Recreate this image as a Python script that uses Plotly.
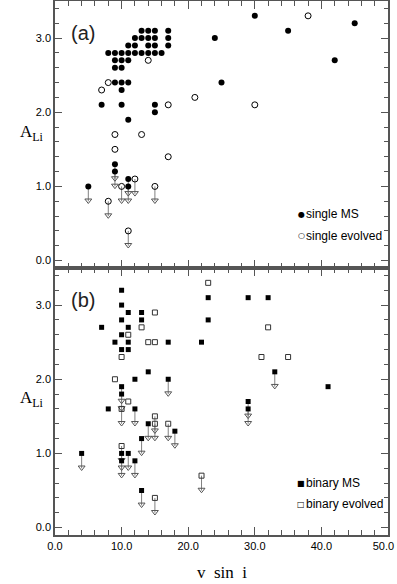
import plotly.graph_objs as go
from plotly.subplots import make_subplots

# panel (a): single stars
sms_x = [13, 14, 15, 17, 12, 13, 14, 15, 17, 11, 12, 14, 15, 17,
         8, 9, 10, 11, 12, 13, 14, 15, 16, 9, 10, 11, 9, 10, 9, 10, 11,
         10, 7, 10, 15, 15, 11, 24, 30, 35, 45, 42, 25]
sms_y = [3.1, 3.1, 3.1, 3.1, 3.0, 3.0, 3.0, 3.0, 3.0, 2.9, 2.9, 2.9, 2.9, 2.9,
         2.8, 2.8, 2.8, 2.8, 2.8, 2.8, 2.8, 2.8, 2.8, 2.7, 2.7, 2.7, 2.6, 2.6, 2.4, 2.4, 2.4,
         2.3, 2.1, 2.1, 2.1, 2.0, 1.9, 3.0, 3.3, 3.1, 3.2, 2.7, 2.4]
sms_lim_x = [9, 9, 5, 11, 11]
sms_lim_y = [1.3, 1.2, 1.0, 1.1, 1.0]

sev_x = [14, 8, 7, 17, 21, 38, 30, 9, 13, 9, 17]
sev_y = [2.7, 2.4, 2.3, 2.1, 2.2, 3.3, 2.1, 1.7, 1.7, 1.5, 1.4]
sev_lim_x = [8, 10, 12, 15, 11]
sev_lim_y = [0.8, 1.0, 1.1, 1.0, 0.4]

# panel (b): binary stars
bms_x = [10, 23, 10, 11, 13, 10, 13, 23, 7, 11, 10, 9, 11, 17, 22, 10, 11,
         14, 12, 8, 29, 32, 41]
bms_y = [3.2, 3.1, 3.0, 2.9, 2.9, 2.8, 2.8, 2.8, 2.7, 2.7, 2.6, 2.5, 2.5, 2.5, 2.5, 2.4, 2.4,
         2.1, 2.0, 1.6, 3.1, 3.1, 1.9]
bms_lim_x = [17, 10, 10, 12, 33, 29, 29, 14, 18, 13, 10, 10, 11, 12, 4, 13]
bms_lim_y = [2.0, 1.9, 1.8, 1.6, 2.1, 1.7, 1.6, 1.4, 1.3, 1.2, 1.0, 0.9, 1.0, 0.9, 1.0, 0.5]

bev_x = [23, 15, 13, 11, 14, 15, 10, 9, 11, 32, 31, 35]
bev_y = [3.3, 2.9, 2.7, 2.6, 2.5, 2.5, 2.3, 2.0, 1.7, 2.7, 2.3, 2.3]
bev_lim_x = [10, 15, 15, 17, 10, 15, 22]
bev_lim_y = [1.6, 1.5, 1.4, 1.4, 1.1, 0.4, 0.7]

legend_labels = ["single MS", "single evolved", "binary MS", "binary evolved"]
legend_glyphs = ["●", "○", "■", "□"]

x_tickvals = [0, 10, 20, 30, 40, 50]
# last label nudged left (trailing nbsp) so it stays inside the page, as in the original
x_ticktext = ["0.0", "10.0", "20.0", "30.0", "40.0", "50.0\u00a0\u00a0\u00a0"]

ARROW = 0.2
SANS = "Liberation Sans Narrow, Liberation Sans, Arial, sans-serif"
SERIF = "Liberation Serif, Times New Roman, serif"


def limit_traces(xs, ys):
    lx, ly, hx, hy = [], [], [], []
    for x, y in zip(xs, ys):
        lx += [x, x, None]
        ly += [y, y - ARROW, None]
        hx.append(x)
        hy.append(y - ARROW + 0.01)
    line = go.Scatter(x=lx, y=ly, mode="lines", line=dict(color="#808080", width=1),
                      hoverinfo="skip")
    heads = go.Scatter(x=hx, y=hy, mode="markers",
                       marker=dict(symbol="triangle-down-open", size=6,
                                   color="#555", line=dict(width=1, color="#555")))
    return [line, heads]


fig = make_subplots(rows=2, cols=1, shared_xaxes=True, vertical_spacing=0)

for tr in limit_traces(sms_lim_x + sev_lim_x, sms_lim_y + sev_lim_y):
    fig.add_trace(tr, row=1, col=1)
for tr in limit_traces(bms_lim_x + bev_lim_x, bms_lim_y + bev_lim_y):
    fig.add_trace(tr, row=2, col=1)

fig.add_trace(go.Scatter(x=sms_x + sms_lim_x, y=sms_y + sms_lim_y, mode="markers",
                         name=legend_labels[0],
                         marker=dict(symbol="circle", size=6, color="black")), row=1, col=1)
fig.add_trace(go.Scatter(x=sev_x + sev_lim_x, y=sev_y + sev_lim_y, mode="markers",
                         name=legend_labels[1],
                         marker=dict(symbol="circle-open", size=6, color="black",
                                     line=dict(width=1))), row=1, col=1)
fig.add_trace(go.Scatter(x=bms_x + bms_lim_x, y=bms_y + bms_lim_y, mode="markers",
                         name=legend_labels[2],
                         marker=dict(symbol="square", size=5, color="black")), row=2, col=1)
fig.add_trace(go.Scatter(x=bev_x + bev_lim_x, y=bev_y + bev_lim_y, mode="markers",
                         name=legend_labels[3],
                         marker=dict(symbol="square-open", size=5, color="#333",
                                     line=dict(width=1))), row=2, col=1)

axis_style = dict(showline=True, linecolor="#555", linewidth=1.5, mirror="allticks",
                  ticks="inside", tickcolor="#555", showgrid=False, zeroline=False,
                  ticklabeloverflow="allow",
                  tickfont=dict(family=SANS, size=11, color="black"))

fig.update_xaxes(range=[0, 50], tickvals=x_tickvals, ticktext=x_ticktext, ticklen=8,
                 minor=dict(dtick=2, ticks="inside", ticklen=5, tickcolor="#555"),
                 **axis_style)
fig.update_xaxes(showticklabels=False, row=1, col=1)
fig.update_yaxes(range=[-0.1, 3.5], dtick=1, ticklen=7, tickformat=".1f",
                 minor=dict(dtick=0.2, ticks="inside", ticklen=4, tickcolor="#555"),
                 **axis_style)

annotations = []
# hand-made legends, glyph + label
legend_y = [0.601, 0.56, 0.097, 0.058]
for glyph, label, ly in zip(legend_glyphs, legend_labels, legend_y):
    annotations.append(dict(text=glyph, x=0.739, y=ly, xref="paper", yref="paper",
                            showarrow=False, xanchor="center", yanchor="middle",
                            font=dict(family="DejaVu Sans, sans-serif", size=8, color="black")))
    annotations.append(dict(text=label, x=0.749, y=ly, xref="paper", yref="paper",
                            showarrow=False, xanchor="left", yanchor="middle",
                            font=dict(family=SANS, size=12, color="black")))

for lbl, ly in [("(a)", 0.94), ("(b)", 0.44)]:
    annotations.append(dict(text=lbl, x=0.042, y=ly, xref="paper", yref="paper",
                            showarrow=False, xanchor="left", yanchor="middle",
                            font=dict(family="Liberation Sans, sans-serif", size=20,
                                      color="#222")))
for ly in [0.753, 0.255]:
    annotations.append(dict(text="A<sub>Li</sub>", x=-0.069, y=ly, xref="paper", yref="paper",
                            showarrow=False, xanchor="center", yanchor="middle",
                            font=dict(family=SERIF, size=17, color="black")))
annotations.append(dict(text="v  sin  i", x=0.5, y=-0.07, xref="paper", yref="paper",
                        showarrow=False, xanchor="center", yanchor="middle",
                        font=dict(family=SERIF, size=17, color="black")))

fig.update_layout(
    width=397, height=584,
    margin=dict(l=55, r=9, t=1, b=49, autoexpand=False),
    plot_bgcolor="white", paper_bgcolor="white",
    showlegend=False,
    hovermode=False,
    annotations=annotations,
)

# the page body has a default 8px margin; drop it so the figure sits at the window corner
fig.write_html("out.html", config={"displayModeBar": False},
               post_script="document.body.style.margin='0';")
